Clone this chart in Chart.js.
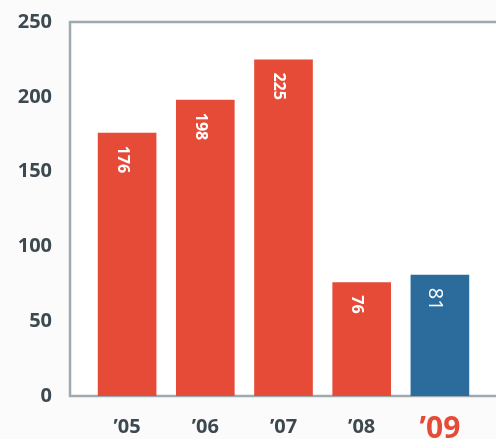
<!DOCTYPE html>
<html>
<head>
<meta charset="utf-8">
<script src="https://cdn.jsdelivr.net/npm/chart.js@4"></script>
<style>
  html, body { margin: 0; padding: 0; background: #fbfbfb; }
  #wrap { width: 496px; height: 439px; }
</style>
</head>
<body>
<div id="wrap"><canvas id="myChart" width="496" height="439"></canvas></div>
<script>
// Valeurs
const years = ["\u201905", "\u201906", "\u201907", "\u201908", "\u201909"];
const values = [176, 198, 225, 76, 81];
const barColors = ["#e64b37", "#e64b37", "#e64b37", "#e64b37", "#2b6c9c"];
const yTicks = [0, 50, 100, 150, 200, 250];

const red = "#e64b37";
const grey = "#3d4950";
const frameColor = "#9ea9b0";

// Cadre (gauche, haut, bas) dessiné à partir de la zone du graphe
const framePlugin = {
  id: "frame",
  beforeDatasetsDraw(chart) {
    const { ctx, chartArea } = chart;
    const left = chartArea.left - 18;
    ctx.save();
    ctx.fillStyle = "#ffffff";
    ctx.fillRect(left, chartArea.top, chart.width - left, chartArea.bottom - chartArea.top);
    ctx.strokeStyle = frameColor;
    ctx.lineWidth = 2.5;
    ctx.beginPath();
    ctx.moveTo(chart.width, chartArea.top);
    ctx.lineTo(left, chartArea.top);
    ctx.lineTo(left, chartArea.bottom);
    ctx.lineTo(chart.width, chartArea.bottom);
    ctx.stroke();
    ctx.restore();
  }
};

// Valeurs écrites verticalement dans les barres
const valueLabels = {
  id: "valueLabels",
  afterDatasetsDraw(chart) {
    const { ctx } = chart;
    const meta = chart.getDatasetMeta(0);
    meta.data.forEach((bar, i) => {
      const last = i === values.length - 1;
      ctx.save();
      ctx.translate(bar.x - 5, bar.y + 13);
      ctx.rotate(Math.PI / 2);
      ctx.fillStyle = "#ffffff";
      ctx.font = last ? "normal 20px 'Open Sans'" : "bold 16px 'Open Sans'";
      ctx.textAlign = "left";
      ctx.textBaseline = "middle";
      ctx.fillText(String(values[i]), 0, 0);
      ctx.restore();
    });
  }
};

const ctx = document.getElementById("myChart").getContext("2d");
const myChart = new Chart(ctx, {
  type: "bar",
  data: {
    labels: years,
    datasets: [{
      data: values,
      backgroundColor: barColors,
      borderWidth: 0,
      categoryPercentage: 1,
      barPercentage: 0.75
    }]
  },
  options: {
    responsive: false,
    animation: false,
    layout: { padding: { top: 22, right: 17, bottom: 0, left: 0 } },
    plugins: { legend: { display: false }, tooltip: { enabled: false } },
    scales: {
      x: {
        grid: { display: false, drawTicks: false },
        border: { display: false },
        afterFit(scale) { scale.height = 43; },
        ticks: {
          padding: 19,
          color: (c) => c.index === 4 ? red : grey,
          font: (c) => c.index === 4
            ? { family: "'Open Sans'", size: 30, weight: "bold", lineHeight: 0.95 }
            : { family: "'Open Sans'", size: 20, weight: "bold", lineHeight: 1.2 }
        }
      },
      y: {
        min: 0,
        max: 250,
        afterFit(scale) {
          scale.width = 88;
          // le padding des ticks ne doit pas décaler la zone verticalement
          scale.paddingTop = 0;
          scale.paddingBottom = 0;
        },
        afterBuildTicks(scale) { scale.ticks = yTicks.map((v) => ({ value: v })); },
        grid: { display: false, drawTicks: false },
        border: { display: false },
        ticks: {
          padding: 36,
          color: grey,
          font: { family: "'Open Sans'", size: 20, weight: "bold" }
        }
      }
    }
  },
  plugins: [framePlugin, valueLabels]
});
</script>
</body>
</html>
